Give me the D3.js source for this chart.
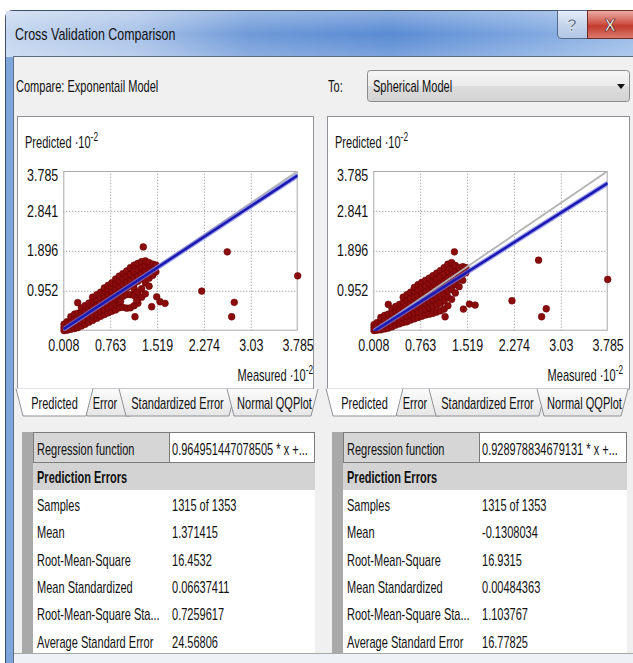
<!DOCTYPE html>
<html>
<head>
<meta charset="utf-8">
<script src="https://cdn.jsdelivr.net/npm/d3@7"></script>
<style>
  body { margin: 0; background: #fff; }
  svg { display: block; }
  text { font-family: "Liberation Sans", Arial, sans-serif; fill: #111; }
</style>
</head>
<body>
<div id="chart"></div>
<script>
var dialogTitle = "Cross Validation Comparison";
var compareModel = "Exponentail Model";
var toModel = "Spherical Model";
var tabNames = ["Predicted", "Error", "Standardized Error", "Normal QQPlot"];

var xTicks = [0.008, 0.763, 1.519, 2.274, 3.03, 3.785];
var yTicks = [0.008, 0.952, 1.896, 2.841, 3.785];

var regSlopes = [0.964951447078505, 0.928978834679131];
var regIntercepts = [0.03, -0.02];
var regressionText = ["0.964951447078505 * x +...", "0.928978834679131 * x +..."];

var statNames = ["Samples", "Mean", "Root-Mean-Square", "Mean Standardized",
  "Root-Mean-Square Sta...", "Average Standard Error"];
var expStats = ["1315 of 1353", "1.371415", "16.4532", "0.06637411", "0.7259617", "24.56806"];
var sphStats = ["1315 of 1353", "-0.1308034", "16.9315", "0.00484363", "1.103767", "16.77825"];

// measured (x10^-2) with the predicted values seen in that column
var expCluster = [
  [0.02, [0.01, 0.08, 0.16]],
  [0.07, [0.02, 0.12, 0.22]],
  [0.13, [0.04, 0.14, 0.25, 0.34]],
  [0.19, [0.06, 0.17, 0.28, 0.40]],
  [0.24, [0.08, 0.19, 0.30, 0.42]],
  [0.30, [0.12, 0.23, 0.34, 0.45, 0.55]],
  [0.36, [0.16, 0.27, 0.38, 0.49, 0.60]],
  [0.42, [0.21, 0.32, 0.43, 0.54, 0.66]],
  [0.48, [0.25, 0.36, 0.47, 0.58, 0.70, 0.80]],
  [0.55, [0.30, 0.41, 0.52, 0.63, 0.74, 0.86]],
  [0.61, [0.35, 0.46, 0.57, 0.68, 0.79, 0.92]],
  [0.67, [0.39, 0.50, 0.61, 0.72, 0.83, 0.95, 1.02]],
  [0.73, [0.43, 0.55, 0.66, 0.77, 0.88, 0.99, 1.08]],
  [0.79, [0.47, 0.59, 0.71, 0.82, 0.94, 1.05, 1.14]],
  [0.85, [0.50, 0.63, 0.76, 0.88, 1.00, 1.12, 1.23]],
  [0.91, [0.55, 0.66, 0.80, 0.93, 1.05, 1.18, 1.30]],
  [0.97, [0.56, 0.82, 0.97, 1.10, 1.23, 1.36]],
  [1.03, [0.54, 0.86, 1.02, 1.15, 1.29, 1.42]],
  [1.09, [0.55, 0.86, 1.07, 1.20, 1.34, 1.50]],
  [1.15, [0.60, 0.84, 1.00, 1.12, 1.25, 1.40, 1.56]],
  [1.21, [0.66, 0.78, 0.92, 1.18, 1.30, 1.45, 1.60]],
  [1.27, [0.80, 1.00, 1.24, 1.36, 1.50, 1.64]],
  [1.33, [0.88, 1.14, 1.30, 1.42, 1.55, 1.66]],
  [1.39, [1.06, 1.25, 1.38, 1.50, 1.62]],
  [1.45, [1.32, 1.45, 1.58]],
  [1.50, [1.40, 1.56]]
];
var expOutliers = [[0.24, 0.67], [0.93, 0.70], [1.19, 0.72], [1.297, 1.99], [1.163, 0.338],
  [1.432, 0.575], [1.513, 0.81], [1.566, 0.693], [1.647, 0.655], [2.238, 0.945],
  [2.65, 1.873], [2.763, 0.678], [2.721, 0.338], [3.785, 1.306]];

var sphCluster = [
  [0.02, [0.01, 0.08, 0.15]],
  [0.07, [0.02, 0.11, 0.20]],
  [0.13, [0.03, 0.13, 0.23, 0.32]],
  [0.19, [0.05, 0.15, 0.26, 0.37]],
  [0.25, [0.07, 0.18, 0.29, 0.40]],
  [0.31, [0.10, 0.21, 0.32, 0.43, 0.53]],
  [0.37, [0.14, 0.25, 0.36, 0.47, 0.58]],
  [0.43, [0.17, 0.28, 0.40, 0.51, 0.63]],
  [0.49, [0.20, 0.32, 0.44, 0.56, 0.68, 0.80]],
  [0.55, [0.22, 0.35, 0.48, 0.60, 0.72, 0.86]],
  [0.61, [0.26, 0.39, 0.52, 0.65, 0.78, 0.92]],
  [0.67, [0.29, 0.42, 0.55, 0.68, 0.81, 0.95, 1.03]],
  [0.73, [0.32, 0.45, 0.58, 0.71, 0.85, 0.98, 1.10]],
  [0.79, [0.35, 0.48, 0.62, 0.75, 0.89, 1.02, 1.15]],
  [0.85, [0.38, 0.52, 0.66, 0.80, 0.93, 1.07, 1.20]],
  [0.91, [0.40, 0.55, 0.70, 0.84, 0.98, 1.12, 1.25]],
  [0.97, [0.42, 0.58, 0.73, 0.88, 1.03, 1.17, 1.31]],
  [1.03, [0.45, 0.62, 0.78, 0.93, 1.08, 1.23, 1.37]],
  [1.09, [0.48, 0.66, 0.82, 0.98, 1.13, 1.28, 1.43]],
  [1.15, [0.52, 0.72, 0.88, 1.03, 1.18, 1.34, 1.50]],
  [1.21, [0.60, 0.80, 0.95, 1.10, 1.24, 1.40, 1.58]],
  [1.27, [0.75, 0.98, 1.14, 1.30, 1.46, 1.62]],
  [1.33, [0.90, 1.10, 1.25, 1.40, 1.55]],
  [1.39, [1.05, 1.22, 1.36, 1.50]],
  [1.45, [1.20, 1.35, 1.52]],
  [1.50, [1.38, 1.50]]
];
var sphOutliers = [[0.25, 0.63], [1.315, 1.873], [1.165, 0.338], [1.46, 0.52], [1.557, 0.638],
  [1.649, 0.615], [2.242, 0.716], [2.671, 1.677], [2.72, 0.338], [2.795, 0.527], [3.785, 1.221]];

var W = 633, H = 663;
var uiSize = 16, uiScale = 0.69;

var svg = d3.select("#chart").append("svg")
  .attr("width", W)
  .attr("height", H);

var defs = svg.append("defs");

function linGrad(id, horizontal, stops) {
  var g = defs.append("linearGradient").attr("id", id)
    .attr("x1", 0).attr("y1", 0)
    .attr("x2", horizontal ? 1 : 0).attr("y2", horizontal ? 0 : 1);
  stops.forEach(function(s) {
    g.append("stop").attr("offset", s[0]).attr("stop-color", s[1]).attr("stop-opacity", s[2] == null ? 1 : s[2]);
  });
}
linGrad("titleGrad", true, [[0, "#c3d5ee"], [0.2, "#aac3e8"], [0.38, "#6f9ad8"], [0.6, "#5a8bd3"], [0.8, "#7aa4de"], [1, "#a0bfe8"]]);
linGrad("gloss", false, [[0, "#ffffff", 0.3], [0.5, "#ffffff", 0.0], [1, "#ffffff", 0.2]]);
linGrad("helpGrad", false, [[0, "#e6eef8"], [0.5, "#c5d5ea"], [1, "#b0c6e4"]]);
linGrad("closeGrad", false, [[0, "#eab0a8"], [0.45, "#d0574a"], [0.55, "#c23b2e"], [1, "#db7c70"]]);
linGrad("comboGrad", false, [[0, "#f6f6f6"], [0.5, "#ebebeb"], [0.5, "#dddddd"], [1, "#d3d3d3"]]);
linGrad("tabGrad", false, [[0, "#fbfbfb"], [1, "#e6e6e6"]]);

// text helper, squeezed horizontally like the dialog font
function label(g, x, y, str, opts) {
  opts = opts || {};
  var t = g.append("text")
    .attr("transform", "translate(" + x + "," + y + ") scale(" + (opts.sx || uiScale) + ",1)")
    .attr("font-size", opts.size || uiSize)
    .attr("text-anchor", opts.anchor || "start")
    .text(str);
  if (opts.bold) t.attr("font-weight", "bold");
  if (opts.fill) t.style("fill", opts.fill);
  return t;
}

// window frame
svg.append("rect").attr("x", 5.5).attr("y", 10.5).attr("width", 700).attr("height", 700)
  .attr("rx", 7).attr("fill", "#7fa6da").attr("stroke", "#3c4f6b");
svg.append("rect").attr("x", 6).attr("y", 11).attr("width", 640).attr("height", 46)
  .attr("fill", "url(#titleGrad)");
svg.append("rect").attr("x", 6).attr("y", 11).attr("width", 640).attr("height", 46)
  .attr("fill", "url(#gloss)");
label(svg, 15, 40, dialogTitle, {sx: 0.78});

// help / close buttons
svg.append("path")
  .attr("d", "M557.5,10.5 H587.5 V38.5 H562 Q557.5,38.5 557.5,34 Z")
  .attr("fill", "url(#helpGrad)").attr("stroke", "#55698a");
svg.append("text").attr("x", 572).attr("y", 31).attr("text-anchor", "middle")
  .attr("font-size", 17).attr("font-weight", "bold")
  .style("fill", "#55657d").style("stroke", "#f4f8fc").style("stroke-width", 0.6)
  .text("?");
svg.append("rect").attr("x", 587.5).attr("y", 10.5).attr("width", 60).attr("height", 28)
  .attr("fill", "url(#closeGrad)").attr("stroke", "#6e2a24");
svg.append("text").attr("x", 610).attr("y", 31).attr("text-anchor", "middle")
  .attr("font-size", 16).attr("font-weight", "bold")
  .style("fill", "#ffffff").style("stroke", "#5a1f1a").style("stroke-width", 0.7)
  .text("X");

// client area
svg.append("rect").attr("x", 13.5).attr("y", 56.5).attr("width", 700).attr("height", 700)
  .attr("fill", "#f0f0f0").attr("stroke", "#5d6d83");

label(svg, 16, 92, "Compare:  " + compareModel);
label(svg, 328, 92, "To:");
svg.append("rect").attr("x", 367.5).attr("y", 70.5).attr("width", 262).attr("height", 31)
  .attr("rx", 3).attr("fill", "url(#comboGrad)").attr("stroke", "#8a8a8a");
label(svg, 373, 92, toModel);
svg.append("path").attr("d", "M617,84 L625,84 L621,89 Z").attr("fill", "#111");

function flatten(cols, extra) {
  var pts = [];
  cols.forEach(function(c) {
    c[1].forEach(function(v) { pts.push([c[0], v]); });
  });
  return pts.concat(extra);
}

var panels = [
  {dx: 0, pageW: 296, tableW: 293, points: flatten(expCluster, expOutliers), slope: regSlopes[0], intercept: regIntercepts[0], reg: regressionText[0], stats: expStats},
  {dx: 310, pageW: 302, tableW: 295, points: flatten(sphCluster, sphOutliers), slope: regSlopes[1], intercept: regIntercepts[1], reg: regressionText[1], stats: sphStats}
];

var plot = {left: 63.3, right: 297.7, top: 171, bottom: 330.7};
var tabTop = 389, tabBottom = 416, slant = 7;
var tabEdges = [[16, 93], [80, 137], [119, 236], [227, 318]];
var tabText = [54.5, 105, 177.5, 274.5];

panels.forEach(function(p, pi) {
  var g = svg.append("g").attr("transform", "translate(" + p.dx + ",0)");

  // tab page
  g.append("rect").attr("x", 17.5).attr("y", 116.5).attr("width", p.pageW).attr("height", tabTop - 116.5)
    .attr("fill", "#fff").attr("stroke", "#8e9196");

  // tabs along the bottom, selected one last so it sits in front
  [1, 2, 3, 0].forEach(function(ti) {
    var e = tabEdges[ti];
    var sel = ti === 0;
    g.append("path")
      .attr("d", "M" + e[0] + "," + (tabTop - (sel ? 0.5 : 0)) + " L" + (e[0] + slant) + "," + tabBottom +
        " L" + (e[1] - slant) + "," + tabBottom + " L" + e[1] + "," + (tabTop - (sel ? 0.5 : 0)))
      .attr("fill", sel ? "#fff" : "url(#tabGrad)")
      .attr("stroke", "#8e9196");
    label(g, tabText[ti], 409, tabNames[ti], {anchor: "middle"});
  });

  // scatter plot
  var x = d3.scaleLinear().domain([xTicks[0], xTicks[xTicks.length - 1]]).range([plot.left, plot.right]);
  var y = d3.scaleLinear().domain([yTicks[0], yTicks[yTicks.length - 1]]).range([plot.bottom, plot.top]);

  var clipId = "clip" + pi;
  defs.append("clipPath").attr("id", clipId).append("rect")
    .attr("x", plot.left + p.dx).attr("y", plot.top)
    .attr("width", plot.right - plot.left).attr("height", plot.bottom - plot.top);

  g.append("rect").attr("x", plot.left).attr("y", plot.top)
    .attr("width", plot.right - plot.left).attr("height", plot.bottom - plot.top)
    .attr("fill", "#fff");

  var gridX = g.append("g").attr("transform", "translate(0," + plot.bottom + ")")
    .call(d3.axisBottom(x).tickValues(xTicks.slice(1, -1)).tickSize(-(plot.bottom - plot.top)).tickFormat(""));
  var gridY = g.append("g").attr("transform", "translate(" + plot.left + ",0)")
    .call(d3.axisLeft(y).tickValues(yTicks.slice(1, -1)).tickSize(-(plot.right - plot.left)).tickFormat(""));
  [gridX, gridY].forEach(function(a) {
    a.select(".domain").remove();
    a.selectAll("line").attr("stroke", "#8c8c8c").attr("stroke-dasharray", "1,2");
  });

  g.append("rect").attr("x", plot.left + 0.5).attr("y", plot.top + 0.5)
    .attr("width", plot.right - plot.left - 1).attr("height", plot.bottom - plot.top - 1)
    .attr("fill", "none").attr("stroke", "#a8a8a8");

  var lineGen = d3.line().x(function(d) { return x(d[0]); }).y(function(d) { return y(d[1]); });
  var x0 = xTicks[0], x1 = xTicks[xTicks.length - 1];

  // reference 1:1 line
  var cg = svg.append("g").attr("clip-path", "url(#" + clipId + ")")
    .append("g").attr("transform", "translate(" + p.dx + ",0)");
  cg.append("path").datum([[x0, x0], [x1, x1]]).attr("d", lineGen)
    .attr("fill", "none").attr("stroke", "#b4b4b4").attr("stroke-width", 1.8);

  g.append("g").selectAll("circle").data(p.points).enter().append("circle")
    .attr("cx", function(d) { return x(d[0]); })
    .attr("cy", function(d) { return y(d[1]); })
    .attr("r", 3.4)
    .attr("fill", "#8a0c0c")
    .attr("stroke", "#640000")
    .attr("stroke-width", 0.5);

  var cg2 = svg.append("g").attr("clip-path", "url(#" + clipId + ")")
    .append("g").attr("transform", "translate(" + p.dx + ",0)");
  var regLine = [[x0, p.slope * x0 + p.intercept], [x1, p.slope * x1 + p.intercept]];
  cg2.append("path").datum(regLine).attr("d", lineGen)
    .attr("fill", "none").attr("stroke", "#7c7ce8").attr("stroke-opacity", 0.7).attr("stroke-width", 5);
  cg2.append("path").datum(regLine).attr("d", lineGen)
    .attr("fill", "none").attr("stroke", "#1a1ab2").attr("stroke-width", 2.6);

  // tick labels
  var ax = g.append("g").attr("transform", "translate(0," + (plot.bottom + 6) + ")")
    .call(d3.axisBottom(x).tickValues(xTicks).tickSize(0).tickFormat(d3.format("")));
  var ay = g.append("g").attr("transform", "translate(" + (plot.left - 5) + ",0)")
    .call(d3.axisLeft(y).tickValues(yTicks.slice(1)).tickSize(0).tickFormat(d3.format("")));
  [ax, ay].forEach(function(a) {
    a.select(".domain").remove();
    a.selectAll("text").attr("font-size", 16)
      .attr("font-family", '"Liberation Sans", Arial, sans-serif')
      .style("fill", "#111")
      .attr("transform", "scale(0.78,1)");
  });
  ay.selectAll("text").attr("x", 0).attr("y", function(d) { return d === yTicks[yTicks.length - 1] ? 4 : 0; });

  var ylab = label(g, 25, 148, "Predicted ·10");
  ylab.append("tspan").attr("dy", -7).attr("font-size", 12).text("-2");
  var xlab = label(g, 313, 381, "", {anchor: "end"});
  xlab.append("tspan").text("Measured ·10");
  xlab.append("tspan").attr("dy", -7).attr("font-size", 12).text("-2");

  // statistics table
  var tx = 22;
  g.append("rect").attr("x", tx).attr("y", 432).attr("width", 11).attr("height", 221).attr("fill", "#a9a9a9");
  g.append("rect").attr("x", tx + 11).attr("y", 463).attr("width", p.tableW - 11).attr("height", 27).attr("fill", "#d3d3d3");
  g.append("rect").attr("x", tx + 11).attr("y", 490).attr("width", p.tableW - 11).attr("height", 163).attr("fill", "#fff");
  g.append("rect").attr("x", tx + 11.5).attr("y", 432.5).attr("width", 136).attr("height", 30)
    .attr("fill", "#d6d6d6").attr("stroke", "#7c7c7c");
  g.append("rect").attr("x", tx + 147.5).attr("y", 432.5).attr("width", p.tableW - 148).attr("height", 30)
    .attr("fill", "#fff").attr("stroke", "#7c7c7c");
  label(g, 37, 455, "Regression function");
  label(g, 172, 455, p.reg);
  label(g, 37, 483, "Prediction Errors", {bold: true});
  var rowY = d3.scalePoint().domain(statNames).range([511, 647.5]);
  statNames.forEach(function(n, i) {
    label(g, 37, rowY(n), n);
    label(g, 172, rowY(n), p.stats[i]);
  });
});

svg.append("line").attr("x1", 14).attr("x2", 633).attr("y1", 653.5).attr("y2", 653.5).attr("stroke", "#a8a8a8");
svg.append("rect").attr("x", 14).attr("y", 654).attr("width", 620).attr("height", 10).attr("fill", "#eef1f5");
</script>
</body>
</html>
